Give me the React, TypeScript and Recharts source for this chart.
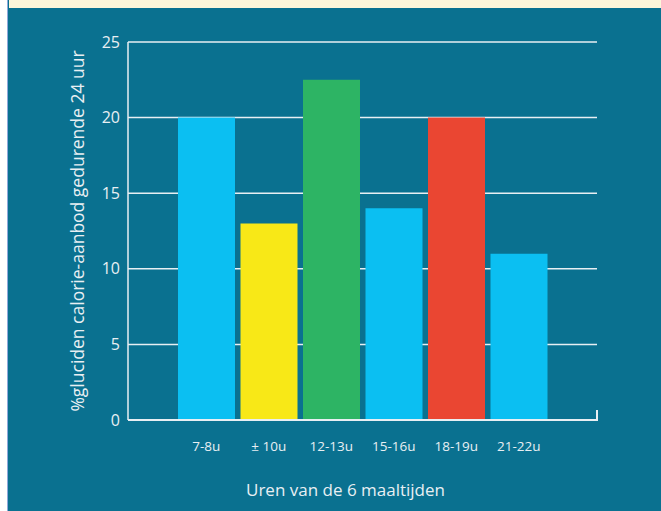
import React from 'react';
import { BarChart, Bar, XAxis, YAxis, CartesianGrid, Cell } from 'recharts';

const meals = ['7-8u', '± 10u', '12-13u', '15-16u', '18-19u', '21-22u'];
const shares = [20, 13, 22.5, 14, 20, 11];
const mealColors = ['#0bbff2', '#f8e817', '#2db464', '#0bbff2', '#ea4632', '#0bbff2'];
const yTicks = [0, 5, 10, 15, 20, 25];

const data = meals.map((meal, i) => ({ meal, share: shares[i] }));

const TEAL = '#0a7190';
const INK = '#e8eff3';
const FONT = '"Open Sans", "Noto Sans", sans-serif';

const App: React.FC = () => {
  return (
    <div style={{ position: 'absolute', left: 0, top: 0, width: 661, height: 511, background: '#ffffff', overflow: 'hidden' }}>
      <div style={{ position: 'absolute', left: 7, top: 0, width: 1, height: 511, background: '#8fa9dc' }} />
      <div style={{ position: 'absolute', left: 8, top: 0, width: 653, height: 511, background: TEAL }} />
      <div style={{ position: 'absolute', left: 9, top: 0, width: 652, height: 8, background: '#fdf6da' }} />
      {/* small closing tick at the end of the category axis */}
      <div style={{ position: 'absolute', left: 596, top: 410, width: 2, height: 11, background: INK }} />
      <div style={{ position: 'absolute', left: 0, top: 0 }}>
        <BarChart
          width={661}
          height={511}
          data={data}
          margin={{ top: 42, right: 64, left: 68, bottom: 61 }}
          style={{ fontFamily: FONT }}
        >
          <CartesianGrid horizontal vertical={false} stroke={INK} strokeWidth={1.5} />
          <XAxis
            dataKey="meal"
            height={30}
            padding={{ left: 47, right: 47 }}
            axisLine={{ stroke: INK, strokeWidth: 2 }}
            tickLine={false}
            tickMargin={15}
            tick={{ fill: INK, fontSize: 13.5, fontFamily: FONT }}
            interval={0}
            label={{ value: 'Uren van de 6 maaltijden', position: 'center', dx: -17, dy: 55, fill: INK, fontSize: 17, fontFamily: FONT }}
          />
          <YAxis
            width={60}
            domain={[0, 25]}
            ticks={yTicks}
            axisLine={{ stroke: INK, strokeWidth: 1.5 }}
            tickLine={false}
            tick={{ fill: INK, fontSize: 16, fontFamily: FONT }}
            label={{ value: '%gluciden calorie-aanbod gedurende 24 uur', angle: -90, position: 'center', dx: -20, fill: INK, fontSize: 17.5, fontFamily: FONT }}
          />
          <Bar dataKey="share" barSize={57} isAnimationActive={false}>
            {data.map((d, i) => (
              <Cell key={d.meal} fill={mealColors[i]} />
            ))}
          </Bar>
        </BarChart>
      </div>
    </div>
  );
};

export default App;
